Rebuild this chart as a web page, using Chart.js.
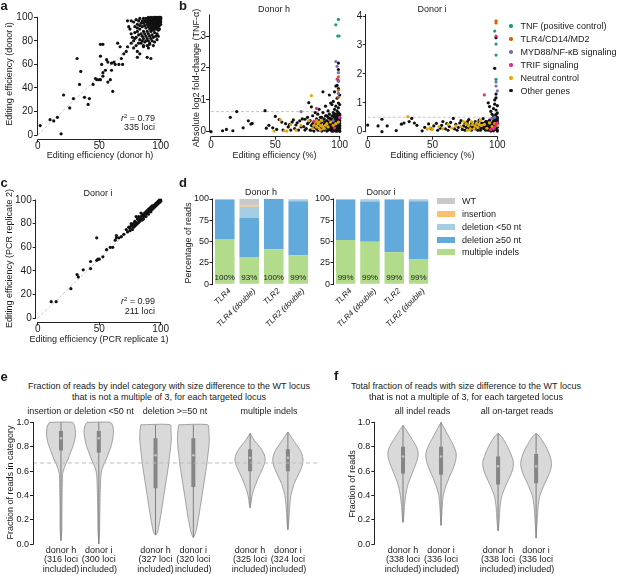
<!DOCTYPE html>
<html>
<head>
<meta charset="utf-8">
<title>Editing efficiency figure</title>
<script src="https://cdn.jsdelivr.net/npm/chart.js@4.4.1/dist/chart.umd.min.js"></script>
<style>
  html, body { margin: 0; padding: 0; background: #ffffff; }
  #root { position: relative; width: 617px; height: 575px; overflow: hidden; background: #ffffff;
          font-family: 'Liberation Sans', Arial, Helvetica, sans-serif; color: #1a1a1a; }
  #root canvas { position: absolute; }
  .t { position: absolute; white-space: nowrap; line-height: 1; }
  .sw { position: absolute; }
</style>
</head>
<body>
<div id="root"></div>
<script>
// ===================== DATA =====================
// Panel a: editing efficiency donor h (x) vs donor i (y)
const editA = [
[2,8],[10,13],[13,12],[16,15],[19,1],[21,34],[26,23],[29,31],[32,65],[34,43],[35,54],[38,32],[41,26],[42,31],
[45,43],[47,48],[48,47],[50,47],[51,47],[53,50],[53,53],[55,55],[52,60],[51,67],[61,37],[51,77],[53,77],[56,64],
[57,62],[60,61],[62,62],[63,60],[66,60],[68,65],[70,69],[72,71],[73,75],[65,78],[67,75],[69,60],[76,78],[78,74],
[79,82],[81,66],[81,71],[83,69],[86,75],[89,66],[90,74],[91,77],[92,65],[59,47],[57,45],[60,55],
[76,97],[78,96],[80,98],[81,94],[82,97],[83,99],[84,95],[85,97],[85,92],[86,99],[86,95],[87,97],[87,93],[88,99],
[88,96],[88,91],[89,98],[89,94],[89,88],[90,100],[90,97],[90,95],[90,92],[90,86],[91,99],[91,98],[91,96],[91,93],
[91,90],[92,100],[92,98],[92,97],[92,95],[92,94],[92,91],[92,88],[93,99],[93,98],[93,96],[93,95],[93,93],[93,90],
[93,85],[94,100],[94,99],[94,97],[94,96],[94,94],[94,92],[94,89],[95,100],[95,99],[95,98],[95,97],[95,95],[95,93],
[95,91],[95,87],[96,100],[96,99],[96,98],[96,97],[96,96],[96,94],[96,92],[96,90],[97,100],[97,99],[97,98],[97,97],
[97,95],[97,93],[97,91],[98,100],[98,99],[98,98],[98,97],[98,96],[98,94],[98,92],[98,89],[99,100],[99,99],[99,98],
[99,97],[99,95],[99,93],[99,90],[100,100],[100,99],[100,98],[100,96],[100,94],
[79,87],[80,83],[81,88],[82,85],[83,81],[83,90],[84,86],[85,80],[85,84],[86,88],[86,82],[87,86],[87,79],[88,84],
[88,80],[89,82],[90,80],[91,84],[91,78],[92,82],[93,80],[94,83],[94,76],[95,79],[96,84],[97,86],[97,81],[98,84],
[89,76],[86,76],[84,78],[82,78],[80,76],[78,80],[77,83],[76,86],[74,92],[73,97],[75,90],[79,92],[81,91],[83,93]
];
const r2A = '0.79', lociA = '335 loci';

// Panel b: absolute log2 fold-change vs editing efficiency
const bSeries = ['TNF (positive control)', 'TLR4/CD14/MD2', 'MYD88/NF-\u03baB signaling', 'TRIF signaling', 'Neutral control', 'Other genes'];
const bH_tnf = [[97,3.35],[99,3.52],[98.5,3.0],[99.5,3.0]];
const bH_tlr4 = [[99,1.72],[99,1.3],[99,1.08]];
const bH_myd88 = [[97,2.2],[98,2.05],[99,1.85],[99,1.58],[99,1.2],[70,0.63],[95,0.35]];
const bH_trif = [[98,1.65],[82,0.73],[100,0.45],[80,0.33],[96,0.12]];
const bH_neutral = [[49,0.02],[54,0.37],[57,0.03],[59,0.02],[62,0.22],[66,0.05],[70,0.2],[76,0.35],[78,1.13],[80,0.2],
[81,0.3],[82,0.15],[83,0.25],[84,0.1],[84,0.3],[85,0.2],[86,0.35],[87,0.15],[88,0.1],[89,0.2],[90,0.25],[91,0.15],
[93,0.3],[95,0.2],[97,0.25],[99,0.3],[79,0.1],[85,0.05],[82,0.35]];
const bH_other = [[0,0],[9,0.03],[12,0.07],[15,0.45],[17,0.03],[20,0.63],[25,0.12],[29,0.34],[31,0.24],[32,0.26],
[42,0.66],[43,0.11],[45,0.2],[48,0.12],[50,0.48],[51,0.07],[53,0.38],[55,0.3],[56,0.05],[58,0.25],[60,0.15],[61,0.22],
[62,0.05],[63,0.3],[64,0.37],[65,0.1],[66,0.21],[67,0.28],[68,0.05],[69,0.34],[70,0.15],[71,0.4],[72,0.16],[73,0.39],
[73,0.05],[74,0.1],[75,0.25],[75,0.45],[76,0.91],[76,0.3],[77,0.05],[77,0.35],[78,0.78],[78,0.2],[79,0.5],[79,0.1],
[80,0.3],[80,0.02],[81,0.6],[81,0.15],[82,0.4],[82,0.25],[83,0.05],[83,0.55],[84,0.7],[84,0.2],[84,0.35],[85,0.1],
[85,0.45],[86,0.3],[86,0.02],[87,1.25],[87,0.6],[87,0.15],[88,0.4],[88,0.25],[88,0.05],[89,0.8],[89,0.5],[89,0.12],
[90,0.35],[90,0.2],[90,0.02],[91,0.65],[91,0.45],[91,0.1],[92,1.15],[92,0.3],[92,0.15],[92,0.55],[93,0.4],[93,0.05],
[93,0.9],[93,0.25],[94,0.85],[94,0.5],[94,0.18],[94,0.02],[95,0.95],[95,0.6],[95,0.35],[95,0.1],[96,0.7],[96,0.45],
[96,0.25],[96,0.05],[97,1.43],[97,0.8],[97,0.55],[97,0.3],[97,0.12],[97,0.02],[98,1.05],[98,0.65],[98,0.5],[98,0.4],
[98,0.2],[98,0.08],[99,2.15],[99,1.95],[99,1.6],[99,1.35],[99,0.9],[99,0.75],[99,0.6],[99,0.45],[99,0.35],[99,0.25],
[99,0.15],[99,0.05],[100,1.15],[100,0.85],[100,0.55],[100,0.42],[100,0.3],[100,0.2],[100,0.1],[100,0.01],[98,1.45],
[96,1.25],[90,0.5],[91,0.3],[91,0.22],[92,0.42],[92,0.08],[93,0.32],[93,0.15],[94,0.3],[94,0.4],[94,0.1],[95,0.5],
[95,0.25],[95,0.02],[96,0.35],[96,0.15],[96,0.55],[97,0.45],[97,0.2],[97,0.38],[98,0.3],[98,0.15],[98,0.55],[99,0.5],
[99,0.4],[99,0.3],[99,0.2],[99,0.1],[100,0.5],[100,0.35],[100,0.25],[100,0.15],[100,0.05],[100,0.45],[99,0.55],
[98,0.02],[97,0.08],[96,0.1],[95,0.15],[94,0.25],[93,0.2],[92,0.25],[91,0.05],[89,0.3],[88,0.15],[87,0.35],[86,0.45],
[85,0.25],[84,0.05],[83,0.3],[82,0.1],[80,0.15],[79,0.25],[78,0.05]];
const bI_tnf = [[98,3.48],[99,3.03],[99,2.65],[99,1.81]];
const bI_tlr4 = [[99,3.83],[99,3.76]];
const bI_myd88 = [[99,1.72],[99,1.58],[100,1.41],[96,0.45],[98,0.5]];
const bI_trif = [[90,1.27],[99,3.31],[97,0.1],[95,0.08],[98,0.15],[100,0.3],[99,0.25]];
const bI_neutral = [[31,0.52],[46,0.09],[48,0.13],[50,0.08],[55,0.18],[58,0.1],[62,0.25],[65,0.12],[68,0.2],[72,0.18],
[74,0.35],[76,0.28],[78,0.22],[79,0.08],[80,0.35],[81,0.25],[82,0.1],[83,0.2],[84,0.3],[85,0.15],[86,0.25],[88,0.22],
[90,0.25],[92,0.12],[94,0.3],[96,0.18],[98,0.28],[100,0.22],[87,0.4],[77,0.05]];
const bI_other = [[0,0.23],[8,0.2],[11,0.43],[11,0.0],[15,0.2],[22,0.04],[26,0.26],[28,0.3],[32,0.35],[34,0.46],
[36,0.3],[38,0.22],[42,0.03],[44,0.15],[47,0.27],[49,0.1],[51,0.2],[53,0.29],[54,0.05],[56,0.12],[57,0.22],[58,0.35],
[60,0.1],[61,0.28],[62,0.05],[63,0.18],[64,0.32],[66,0.46],[67,0.1],[68,0.25],[69,0.05],[70,0.15],[71,0.3],[72,0.38],
[73,0.08],[74,0.2],[75,0.3],[75,0.05],[76,0.15],[77,0.35],[77,0.25],[78,0.1],[78,0.42],[79,0.2],[80,0.3],[80,0.05],
[81,0.15],[82,0.25],[83,0.35],[83,0.1],[84,0.2],[85,0.05],[85,0.3],[86,0.15],[86,0.4],[87,0.25],[87,0.05],[88,0.12],
[88,0.3],[89,0.2],[89,0.45],[90,0.1],[90,0.3],[91,0.2],[91,0.05],[92,0.35],[92,0.15],[93,1.0],[93,0.25],[93,0.05],
[94,0.87],[94,0.4],[94,0.12],[95,0.7],[95,0.3],[95,0.2],[95,0.02],[96,0.6],[96,0.45],[96,0.1],[96,0.25],[97,0.8],
[97,0.5],[97,0.35],[97,0.15],[97,0.03],[98,2.19],[98,1.1],[98,0.95],[98,0.55],[98,0.4],[98,0.25],[98,0.1],[99,3.25],
[99,1.3],[99,1.17],[99,0.75],[99,0.6],[99,0.45],[99,0.3],[99,0.2],[99,0.08],[100,0.9],[100,0.65],[100,0.5],[100,0.38],
[100,0.28],[100,0.15],[100,0.05],[100,0.02],[99,0.4],[98,0.32],[97,0.22],[96,0.3],[95,0.12],[94,0.22],[93,0.15],
[92,0.28],[91,0.35],[90,0.18],[100,0.45],[99,0.52],[98,0.18],[100,0.33],[97,0.42]];
const bThresholdH = 0.63, bThresholdI = 0.5;

// Panel c: PCR replicate 1 (x) vs replicate 2 (y), donor i
const editC = [
[11,14],[15,14],[27,25],[32,37],[33,35],[37,41],[43,48],[43,42],[48,68],[48,49],[49,50],[50,50],[53,52],[56,58],
[59,60],[61,60],[63,66],[64,68],[64,70],[66,68],[68,69],[70,71],
[72,75],[73,73],[74,77],[75,76],[75,74],[76,78],[77,75],[77,79],[78,77],[78,80],[79,78],[79,82],[80,79],[80,81],
[81,80],[81,84],[82,83],[82,81],[83,82],[83,85],[84,84],[84,86],[85,83],[85,87],[86,86],[86,88],[87,87],[87,89],
[88,88],[88,90],[89,89],[89,91],[90,90],[90,92],[91,91],[91,93],[92,92],[92,94],[93,92],[93,95],[94,94],[94,95],
[95,95],[95,96],[96,96],[96,97],[97,97],[97,98],[98,98],[98,99],[99,99],[99,98],[100,100],[100,99],[84,89],[86,84],
[82,86],[80,86],[76,80],[88,86],[90,88],[92,90],[94,93],[96,95],[97,96],[98,97],[99,100],[93,94],[95,94],[91,92],
[89,90],[87,88]
];
const r2C = '0.99', lociC = '211 loci';

// Panel d: read categories (% of reads) per targeted gene
const dCategories = ['TLR4', 'TLR4 (double)', 'TLR2', 'TLR2 (double)'];
const dSeries = ['WT', 'insertion', 'deletion <50 nt', 'deletion \u226550 nt', 'multiple indels'];
const dH_multiple = [53, 32, 41, 34];
const dH_del50plus = [46, 46, 59, 63.5];
const dH_del50minus = [1, 13, 0, 2];
const dH_insertion = [0, 1, 0, 0];
const dH_wt = [0, 8, 0, 0.5];
const dH_edited = ['100%', '93%', '100%', '99%'];
const dI_multiple = [52, 50, 37.5, 29];
const dI_del50plus = [47, 47, 61.5, 68.5];
const dI_del50minus = [1, 2, 1, 1.5];
const dI_insertion = [0, 0, 0, 0];
const dI_wt = [0, 1, 0, 1];
const dI_edited = ['99%', '99%', '99%', '99%'];

// Panel e: violin profiles (y level, half-width density) per indel category and donor
const eGroups = ['insertion or deletion <50 nt', 'deletion >=50 nt', 'multiple indels'];
const eLabels = [['donor h','(316 loci','included)'], ['donor i','(300 loci','included)'],
                 ['donor h','(327 loci','included)'], ['donor i','(320 loci','included)'],
                 ['donor h','(325 loci','included)'], ['donor i','(324 loci','included)']];
const eInsDelH_y = [1.0, 0.97, 0.93, 0.89, 0.85, 0.80, 0.75, 0.70, 0.66, 0.62, 0.58, 0.50, 0.40, 0.30, 0.20, 0.10, 0.03];
const eInsDelH_w = [0.30, 0.36, 0.38, 0.38, 0.36, 0.31, 0.25, 0.19, 0.13, 0.08, 0.045, 0.035, 0.03, 0.025, 0.025, 0.02, 0.0];
const eInsDelI_y = [1.0, 0.97, 0.93, 0.89, 0.85, 0.80, 0.75, 0.70, 0.66, 0.62, 0.58, 0.50, 0.40, 0.30, 0.20, 0.10, 0.0];
const eInsDelI_w = [0.31, 0.37, 0.39, 0.38, 0.36, 0.32, 0.26, 0.20, 0.14, 0.09, 0.06, 0.045, 0.035, 0.03, 0.025, 0.02, 0.0];
const eDel50H_y = [0.98, 0.93, 0.87, 0.80, 0.72, 0.64, 0.56, 0.48, 0.40, 0.32, 0.24, 0.17, 0.12, 0.09, 0.075];
const eDel50H_w = [0.39, 0.41, 0.42, 0.40, 0.37, 0.34, 0.30, 0.26, 0.22, 0.18, 0.14, 0.10, 0.07, 0.04, 0.0];
const eDel50I_y = [0.98, 0.93, 0.87, 0.80, 0.72, 0.64, 0.56, 0.48, 0.40, 0.32, 0.24, 0.17, 0.12, 0.09, 0.07, 0.055];
const eDel50I_w = [0.38, 0.41, 0.42, 0.41, 0.38, 0.35, 0.31, 0.27, 0.23, 0.19, 0.15, 0.11, 0.08, 0.05, 0.03, 0.0];
const eMultiH_y = [0.91, 0.88, 0.85, 0.82, 0.78, 0.74, 0.70, 0.66, 0.62, 0.58, 0.54, 0.50, 0.46, 0.42, 0.38, 0.34, 0.30];
const eMultiH_w = [0.0, 0.06, 0.12, 0.20, 0.30, 0.37, 0.40, 0.38, 0.33, 0.27, 0.21, 0.16, 0.11, 0.07, 0.04, 0.025, 0.0];
const eMultiI_y = [0.92, 0.89, 0.86, 0.82, 0.78, 0.74, 0.70, 0.66, 0.62, 0.58, 0.54, 0.50, 0.45, 0.40, 0.35, 0.30, 0.25, 0.20, 0.15, 0.12];
const eMultiI_w = [0.0, 0.07, 0.13, 0.22, 0.31, 0.37, 0.40, 0.39, 0.35, 0.29, 0.23, 0.17, 0.12, 0.08, 0.06, 0.045, 0.035, 0.025, 0.015, 0.0];
const eQ1 = [0.77, 0.75, 0.46, 0.47, 0.60, 0.60];
const eQ3 = [0.93, 0.93, 0.87, 0.87, 0.78, 0.78];
const eMedian = [0.87, 0.87, 0.73, 0.73, 0.71, 0.71];
const eReference = 0.667;

// Panel f: total fraction of reads
const fGroups = ['all indel reads', 'all on-target reads'];
const fLabels = [['donor h','(338 loci','included)'], ['donor i','(336 loci','included)'],
                 ['donor h','(338 loci','included)'], ['donor i','(336 loci','included)']];
const fIndelH_y = [0.975, 0.94, 0.90, 0.86, 0.82, 0.78, 0.74, 0.70, 0.66, 0.62, 0.58, 0.54, 0.50, 0.45, 0.40, 0.35, 0.30, 0.25, 0.20, 0.18];
const fIndelH_w = [0.0, 0.08, 0.16, 0.24, 0.32, 0.38, 0.40, 0.38, 0.34, 0.29, 0.24, 0.19, 0.14, 0.10, 0.07, 0.05, 0.035, 0.025, 0.01, 0.0];
const fIndelI_y = [1.0, 0.96, 0.92, 0.88, 0.84, 0.80, 0.76, 0.72, 0.68, 0.64, 0.60, 0.56, 0.52, 0.48, 0.44, 0.40, 0.35, 0.30, 0.25, 0.20, 0.155];
const fIndelI_w = [0.0, 0.07, 0.14, 0.21, 0.28, 0.34, 0.39, 0.40, 0.38, 0.34, 0.29, 0.23, 0.18, 0.13, 0.09, 0.06, 0.04, 0.03, 0.02, 0.01, 0.0];
const fOnTargetH_y = [0.91, 0.88, 0.84, 0.80, 0.76, 0.72, 0.68, 0.64, 0.60, 0.56, 0.52, 0.48, 0.44, 0.40, 0.35, 0.30, 0.25, 0.20, 0.15, 0.11];
const fOnTargetH_w = [0.0, 0.10, 0.18, 0.25, 0.31, 0.36, 0.40, 0.40, 0.37, 0.32, 0.26, 0.20, 0.15, 0.10, 0.07, 0.05, 0.04, 0.03, 0.015, 0.0];
const fOnTargetI_y = [0.91, 0.88, 0.84, 0.80, 0.76, 0.72, 0.68, 0.64, 0.60, 0.56, 0.52, 0.48, 0.44, 0.40, 0.35, 0.30, 0.25, 0.20, 0.15, 0.10, 0.05];
const fOnTargetI_w = [0.0, 0.10, 0.18, 0.26, 0.32, 0.37, 0.40, 0.40, 0.37, 0.32, 0.26, 0.20, 0.15, 0.10, 0.07, 0.05, 0.04, 0.03, 0.02, 0.01, 0.0];
const fQ1 = [0.58, 0.57, 0.49, 0.50];
const fQ3 = [0.80, 0.80, 0.72, 0.74];
const fMedian = [0.72, 0.72, 0.64, 0.64];

// ===================== STYLE / HELPERS =====================
const FONT = "'Liberation Sans', Arial, Helvetica, sans-serif";
Chart.defaults.font.family = FONT;
Chart.defaults.font.size = 10;
Chart.defaults.color = '#1a1a1a';
Chart.defaults.animation = false;
Chart.defaults.events = [];
Chart.defaults.plugins.legend.display = false;
Chart.defaults.plugins.tooltip.enabled = false;

const B_COLORS = ['#1b9e77', '#d95f02', '#7570b3', '#e7298a', '#e6ab02', '#111111'];
const D_COLORS = {wt: '#c9c9c9', ins: '#fdbf6f', delS: '#a6cee3', delL: '#62a9dc', multi: '#b2dc8b'};
const root = document.getElementById('root');

function T(str, x, y, o = {}) {
  const d = document.createElement('div');
  d.className = 't';
  if (o.html) d.innerHTML = str; else d.textContent = str;
  const size = o.size || 9;
  d.style.fontSize = size + 'px';
  if (o.bold) d.style.fontWeight = 'bold';
  d.style.left = x + 'px';
  if (o.baseline) {
    d.style.top = (y - 0.8465 * size) + 'px';
  } else {
    d.style.top = y + 'px';
    const ax = o.align === 'left' ? '0' : (o.align === 'right' ? '-100%' : '-50%');
    d.style.transform = 'translate(' + ax + ',-50%)';
  }
  root.appendChild(d);
  return d;
}
function swatch(x, y, w, h, color, round) {
  const s = document.createElement('div');
  s.className = 'sw';
  s.style.cssText = 'left:' + x + 'px;top:' + y + 'px;width:' + w + 'px;height:' + h + 'px;background:' + color + ';' + (round ? 'border-radius:50%;' : '');
  root.appendChild(s);
}

const al = p => Math.round(p - 0.5) + 0.5;
const axisLines = {
  id: 'axisLines',
  afterDraw(chart, args, o) {
    if (!o) return;
    const ctx = chart.ctx, a = chart.chartArea;
    ctx.save();
    ctx.strokeStyle = '#222'; ctx.lineWidth = 1;
    if (o.x) {
      const s = chart.scales.x, y = al(a.bottom);
      ctx.beginPath(); ctx.moveTo(s.getPixelForValue(o.x[0]) - 0.5, y); ctx.lineTo(s.getPixelForValue(o.x[1]) + 0.5, y); ctx.stroke();
    }
    if (o.y) {
      const s = chart.scales.y, x = al(a.left);
      ctx.beginPath(); ctx.moveTo(x, s.getPixelForValue(o.y[0]) + 0.5); ctx.lineTo(x, s.getPixelForValue(o.y[1]) - 0.5); ctx.stroke();
    }
    ctx.restore();
  }
};
// rotated y-axis title drawn on the chart canvas (no width squeezing)
const yTitle = {
  id: 'yTitle',
  afterDraw(chart, args, o) {
    if (!o || !o.text) return;
    const ctx = chart.ctx;
    ctx.save();
    ctx.translate(o.x, o.y);
    ctx.rotate(-Math.PI / 2);
    ctx.font = (o.size || 9) + 'px ' + FONT;
    ctx.fillStyle = '#1a1a1a'; ctx.textAlign = 'center'; ctx.textBaseline = 'middle';
    ctx.fillText(o.text, 0, 0);
    ctx.restore();
  }
};
const barText = {
  id: 'barText',
  afterDatasetsDraw(chart, args, o) {
    if (!o || !o.labels) return;
    const ctx = chart.ctx, meta = chart.getDatasetMeta(0);
    ctx.save();
    ctx.font = o.size + 'px ' + FONT;
    ctx.fillStyle = '#1a1a1a'; ctx.textAlign = 'center'; ctx.textBaseline = 'middle';
    meta.data.forEach((bar, i) => ctx.fillText(o.labels[i], bar.x, chart.chartArea.bottom - o.dy));
    ctx.restore();
  }
};
Chart.register(axisLines, yTitle, barText);

function linAxis(min, max, ticks, pad, fmt, size) {
  return {
    type: 'linear', min: min, max: max,
    afterBuildTicks: s => { s.ticks = ticks.map(v => ({value: v})); },
    grid: {display: true, drawOnChartArea: false, drawTicks: true, tickLength: 3, color: '#222', tickColor: '#222', lineWidth: 1},
    border: {display: false},
    ticks: {autoSkip: false, maxRotation: 0, minRotation: 0, padding: pad, color: '#1a1a1a',
            font: {size: size || 10, lineHeight: 1}, callback: fmt || (v => String(v))}
  };
}

function makeChart(box, area, config, title) {
  const [cx, cy, cw, ch] = box, [L, Tp, R, B] = area;
  const c = document.createElement('canvas');
  c.width = cw; c.height = ch;
  c.style.left = cx + 'px'; c.style.top = cy + 'px';
  c.style.width = cw + 'px'; c.style.height = ch + 'px';
  root.appendChild(c);
  config.options.responsive = false;
  config.options.maintainAspectRatio = false;
  config.options.layout = {padding: {left: 0, top: Tp - cy, right: cx + cw - R, bottom: 0}};
  config.options.scales.x.afterFit = s => { s.height = cy + ch - B; };
  config.options.scales.y.afterFit = s => { s.width = L - cx; };
  if (title) config.options.plugins.yTitle = {text: title[0], x: title[1] - cx, y: title[2] - cy};
  return new Chart(c, config);
}

const pts = arr => arr.map(p => ({x: p[0], y: p[1]}));
function dotSet(arr, color) {
  return {type: 'scatter', data: pts(arr), backgroundColor: color, borderWidth: 0, pointRadius: 1.6, pointBorderWidth: 0, order: 1};
}
function dashSet(x0, y0, x1, y1) {
  return {type: 'scatter', data: [{x: x0, y: y0}, {x: x1, y: y1}], showLine: true, borderColor: '#c6c6c6',
          borderWidth: 1, borderDash: [3, 2], pointRadius: 0, fill: false, order: 10};
}

// ===================== PANEL a =====================
makeChart([0, 0, 176, 162], [37, 14, 166, 139.5], {
  type: 'scatter',
  data: {datasets: [dotSet(editA, '#111111'), dashSet(0, 0, 100, 100)]},
  options: {
    scales: {x: linAxis(-0.6, 104.3, [0, 50, 100], -1), y: linAxis(-3.8, 102.8, [0, 20, 40, 60, 80, 100], 1)},
    plugins: {axisLines: {x: [0, 100], y: [0, 100]}}
  }
}, ['Editing efficiency (donor i)', 10, 74]);
T('Editing efficiency (donor h)', 100, 154.5);
T('<i>r</i><span style="font-size:6px;position:relative;top:-3px">2</span> = ' + r2A, 155, 118, {html: true, align: 'right'});
T(lociA, 155, 127, {align: 'right'});

// ===================== PANEL b =====================
const bH = [bH_tnf, bH_tlr4, bH_myd88, bH_trif, bH_neutral, bH_other];
const bI = [bI_tnf, bI_tlr4, bI_myd88, bI_trif, bI_neutral, bI_other];
makeChart([185, 0, 165, 162], [209, 14, 342, 136.7], {
  type: 'scatter',
  data: {datasets: bH.map((s, i) => Object.assign(dotSet(s, B_COLORS[i]), {label: bSeries[i]})).concat([dashSet(0, bThresholdH, 100, bThresholdH)])},
  options: {
    scales: {x: linAxis(-1.55, 101.8, [0, 50, 100], 1), y: linAxis(-0.157, 3.69, [0, 1, 2, 3], 0)},
    plugins: {axisLines: {x: [0, 100], y: [0, 3.66]}}
  }
}, ['Absolute log2 fold-change (TNF-\u03b1)', 196.5, 78]);
makeChart([345, 0, 162, 162], [365.7, 14, 499, 136.7], {
  type: 'scatter',
  data: {datasets: bI.map((s, i) => Object.assign(dotSet(s, B_COLORS[i]), {label: bSeries[i]})).concat([dashSet(0, bThresholdI, 100, bThresholdI)])},
  options: {
    scales: {x: linAxis(-1.54, 101.3, [0, 50, 100], 1), y: linAxis(-0.173, 4.07, [0, 1, 2, 3, 4], 0.5)},
    plugins: {axisLines: {x: [0, 100], y: [0, 4.05]}}
  }
});
T('Donor h', 274, 9);
T('Donor i', 432, 9);
T('Editing efficiency (%)', 274.5, 155);
T('Editing efficiency (%)', 432.5, 155);
const bLegendY = [26, 39, 52, 65, 78, 90.5];
bSeries.forEach((s, i) => {
  swatch(509.3, bLegendY[i] - 1.7, 3.4, 3.4, B_COLORS[i], true);
  T(s, 520.5, bLegendY[i], {align: 'left'});
});

// ===================== PANEL c =====================
makeChart([0, 185, 176, 162], [35.7, 198, 166, 322.3], {
  type: 'scatter',
  data: {datasets: [dotSet(editC, '#111111'), dashSet(0, 0, 100, 100)]},
  options: {
    scales: {x: linAxis(-1.6, 104.3, [0, 50, 100], -1), y: linAxis(-3.4, 101.7, [0, 20, 40, 60, 80, 100], 1)},
    plugins: {axisLines: {x: [0, 100], y: [0, 100]}}
  }
}, ['Editing efficiency (PCR replicate 2)', 10, 258.5]);
T('Donor i', 98, 193);
T('Editing efficiency (PCR replicate 1)', 99, 339);
T('<i>r</i><span style="font-size:6px;position:relative;top:-3px">2</span> = ' + r2C, 155, 300.5, {html: true, align: 'right'});
T(lociC, 155, 310.5, {align: 'right'});

// ===================== PANEL d =====================
function barChart(box, area, vals, edited, ypad, title) {
  const sets = [
    [dSeries[4], vals[0], D_COLORS.multi], [dSeries[3], vals[1], D_COLORS.delL],
    [dSeries[2], vals[2], D_COLORS.delS], [dSeries[1], vals[3], D_COLORS.ins], [dSeries[0], vals[4], D_COLORS.wt]
  ];
  const y = linAxis(0, 100, [0, 25, 50, 75, 100], ypad, null, 9);
  y.stacked = true;
  return makeChart(box, area, {
    type: 'bar',
    data: {labels: dCategories, datasets: sets.map(s => ({label: s[0], data: s[1], backgroundColor: s[2],
           borderWidth: 0, barPercentage: 0.8, categoryPercentage: 1.0, stack: 'reads'}))},
    options: {
      scales: {
        x: {type: 'category', stacked: true, offset: true, grid: {display: false, drawTicks: false}, border: {display: false},
            ticks: {autoSkip: false, minRotation: 45, maxRotation: 45, labelOffset: 5, padding: 2, color: '#1a1a1a',
                    font: {size: 8, style: 'italic', lineHeight: 1.2}}},
        y: y
      },
      plugins: {axisLines: {y: [0, 100]}, barText: {labels: edited, dy: 7, size: 8}}
    }
  }, title);
}
barChart([182, 185, 140, 150], [212.5, 199, 310.5, 284.3],
         [dH_multiple, dH_del50plus, dH_del50minus, dH_insertion, dH_wt], dH_edited, 0.5,
         ['Percentage of reads', 188.5, 243]);
barChart([315, 185, 130, 150], [333.5, 199, 430.7, 284.3],
         [dI_multiple, dI_del50plus, dI_del50minus, dI_insertion, dI_wt], dI_edited, 0.5, null);
T('Donor h', 261, 192);
T('Donor i', 381, 192);
const dLegendY = [201, 214, 226.7, 239.5, 252];
const dLegendColors = [D_COLORS.wt, D_COLORS.ins, D_COLORS.delS, D_COLORS.delL, D_COLORS.multi];
dSeries.forEach((s, i) => {
  swatch(437, dLegendY[i] - 3, 17.5, 6, dLegendColors[i], false);
  T(s, 462, dLegendY[i], {align: 'left'});
});

// ===================== PANELS e / f (violins) =====================
function violinSets(slots, profiles, q1, q3, med) {
  const out = [];
  profiles.forEach((p, k) => {
    const c = slots[k], ys = p[0], ws = p[1];
    const outline = [];
    for (let i = 0; i < ys.length; i++) outline.push({x: c - ws[i], y: ys[i]});
    for (let i = ys.length - 1; i >= 0; i--) outline.push({x: c + ws[i], y: ys[i]});
    outline.push(outline[0]);
    out.push({type: 'scatter', data: outline, showLine: true, fill: 'shape', backgroundColor: '#d9d9d9',
              borderColor: '#8e8e8e', borderWidth: 0.8, pointRadius: 0, tension: 0.25, order: 6});
    out.push({type: 'scatter', data: [{x: c, y: ys[ys.length - 1]}, {x: c, y: ys[0]}], showLine: true,
              borderColor: '#7d7d7d', borderWidth: 1, pointRadius: 0, order: 5});
    out.push({type: 'scatter', data: [{x: c, y: q1[k]}, {x: c, y: q3[k]}], showLine: true,
              borderColor: '#858585', borderWidth: 4, borderCapStyle: 'butt', pointRadius: 0, order: 4});
    out.push({type: 'scatter', data: [{x: c, y: med[k]}], backgroundColor: '#c4c4c4', pointRadius: 1.3,
              pointBorderWidth: 0, order: 3});
  });
  return out;
}
function violinChart(box, area, slots, xr, profiles, q1, q3, med, labels, ref, title) {
  const x = {type: 'linear', min: xr[0], max: xr[1],
             afterBuildTicks: s => { s.ticks = slots.map(v => ({value: v})); },
             grid: {display: false, drawTicks: false}, border: {display: false},
             ticks: {autoSkip: false, maxRotation: 0, minRotation: 0, padding: 1, color: '#1a1a1a',
                     font: {size: 9, lineHeight: 1.08}, callback: v => labels[slots.indexOf(v)]}};
  const datasets = violinSets(slots, profiles, q1, q3, med);
  if (ref != null) {
    const d = dashSet(xr[0], ref, xr[1], ref); d.order = -1; d.borderColor = '#bdbdbd'; d.borderDash = [4, 3];
    datasets.push(d);
  }
  return makeChart(box, area, {
    type: 'scatter',
    data: {datasets: datasets},
    options: {
      scales: {x: x, y: linAxis(0, 1.052, [0, 0.2, 0.4, 0.6, 0.8, 1.0], 1, v => v.toFixed(1), 9)},
      plugins: {axisLines: {y: [0, 1]}}
    }
  }, title);
}
const SLOTS_E = [0, 1, 2.5, 3.5, 5, 6];
violinChart([0, 405, 330, 170], [33, 416, 317, 544.3], SLOTS_E, [-0.74, 6.77],
  [[eInsDelH_y, eInsDelH_w], [eInsDelI_y, eInsDelI_w], [eDel50H_y, eDel50H_w], [eDel50I_y, eDel50I_w],
   [eMultiH_y, eMultiH_w], [eMultiI_y, eMultiI_w]], eQ1, eQ3, eMedian, eLabels, eReference,
  ['Fraction of reads in category', 11, 482.5]);
const SLOTS_F = [0, 1, 2.5, 3.5];
violinChart([340, 405, 240, 170], [374.3, 416, 565, 544.3], SLOTS_F, [-0.755, 4.26],
  [[fIndelH_y, fIndelH_w], [fIndelI_y, fIndelI_w], [fOnTargetH_y, fOnTargetH_w], [fOnTargetI_y, fOnTargetI_w]],
  fQ1, fQ3, fMedian, fLabels, null, ['Fraction of reads', 353, 484]);

T('Fraction of reads by indel category with size difference to the WT locus', 169, 386);
T('that is not a multiple of 3, for each targeted locus', 169, 397);
T(eGroups[0], 80.5, 411); T(eGroups[1], 175, 411); T(eGroups[2], 269, 411);
T('Total fraction of reads with size difference to the WT locus', 466, 386);
T('that is not a multiple of 3, for each targeted locus', 466, 397);
T(fGroups[0], 422.5, 411); T(fGroups[1], 517, 411);

// ===================== PANEL LETTERS =====================
T('a', 0.5, 9.5, {size: 13, bold: true, baseline: true});
T('b', 179, 9.5, {size: 13, bold: true, baseline: true});
T('c', 0.5, 187.3, {size: 13, bold: true, baseline: true});
T('d', 179, 187.3, {size: 13, bold: true, baseline: true});
T('e', 0.5, 380.7, {size: 13, bold: true, baseline: true});
T('f', 334, 380, {size: 13, bold: true, baseline: true});
</script>
</body>
</html>
